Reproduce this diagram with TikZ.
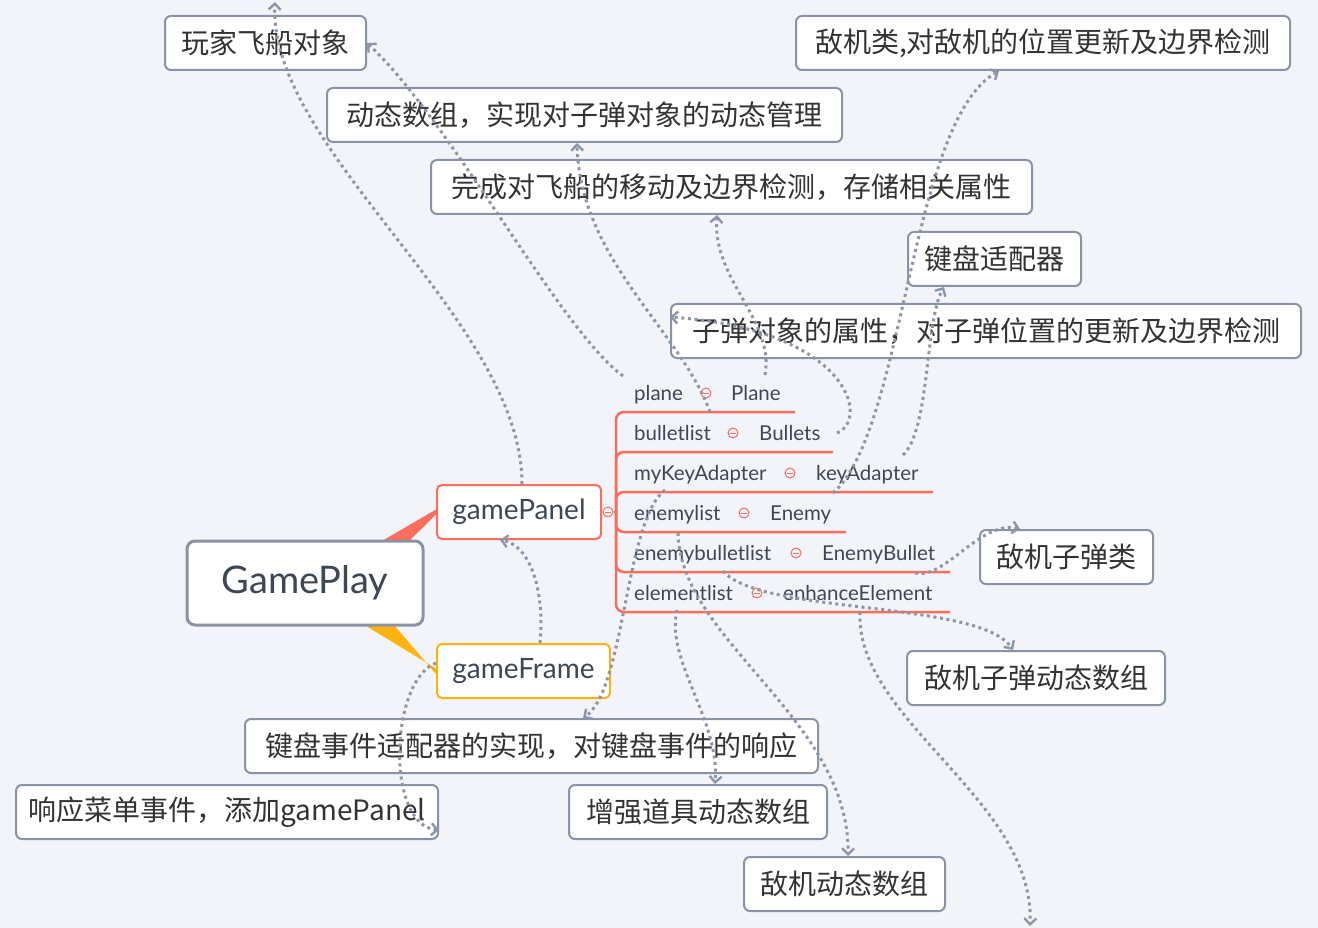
\documentclass[tikz,border=0pt]{standalone}
\usepackage{fontspec}
\setmainfont{Lato}
\newfontfamily\cjk{Noto Sans CJK SC}
\usetikzlibrary{arrows.meta,calc}
\pgfdeclarelayer{background}
\pgfsetlayers{background,main}
\definecolor{bgc}{HTML}{F3F4F9}
\definecolor{boxline}{HTML}{8A93A5}
\definecolor{txtc}{HTML}{333333}
\definecolor{lblc}{HTML}{3E4756}
\definecolor{coral}{HTML}{FB6D5C}
\definecolor{amber}{HTML}{FFB30F}
\definecolor{connc}{HTML}{8D96A8}
\begin{document}
\begin{tikzpicture}[x=1pt,y=-1pt,
  notebox/.style={draw=boxline, line width=2pt, fill=white, rounded corners=6pt,
    minimum height=54pt, inner sep=0pt, text=txtc,
    font=\cjk\fontsize{28}{34}\selectfont},
  rootbox/.style={draw=boxline, line width=3pt, fill=white, rounded corners=8pt,
    minimum width=236pt, minimum height=84pt, inner sep=0pt, text=lblc,
    font=\fontsize{38}{44}\selectfont},
  subbox/.style={line width=2pt, fill=white, rounded corners=5pt,
    minimum height=54pt, inner sep=0pt, text=lblc,
    font=\fontsize{28}{32}\selectfont},
  lbl/.style={inner sep=0pt, text=lblc, font=\fontsize{20.5}{24}\selectfont, anchor=base west},
  minusicon/.style={circle, draw=coral, line width=1pt, minimum size=10pt, inner sep=0pt,
    path picture={\draw[coral,line width=1pt] ([xshift=2.3pt]path picture bounding box.west) -- ([xshift=-2.3pt]path picture bounding box.east);}},
  branch/.style={draw=coral, line width=2.5pt, rounded corners=8pt},
  conn/.style={draw=connc, line width=3pt, dash pattern=on 3pt off 3.6pt,
    -{Straight Barb[length=6pt,width=12pt,line width=2.4pt]}}
]
\useasboundingbox (0,0) rectangle (1318,928);
\begin{pgfonlayer}{background}
  \fill[bgc] (0,0) rectangle (1318,928);
\end{pgfonlayer}

% note boxes
\node[notebox, minimum width=201pt] (ply) at (265.5,43) {玩家飞船对象};
\node[notebox, minimum width=494pt] (enc) at (1043,43) {敌机类,对敌机的位置更新及边界检测};
\node[notebox, minimum width=515pt] (dyn) at (584.5,115) {动态数组，实现对子弹对象的动态管理};
\node[notebox, minimum width=601pt] (mov) at (731.5,187) {完成对飞船的移动及边界检测，存储相关属性};
\node[notebox, minimum width=173pt] (kad) at (994.5,259) {键盘适配器};
\node[notebox, minimum width=630pt] (bul) at (986,331) {子弹对象的属性，对子弹位置的更新及边界检测};
\node[notebox, minimum width=173pt] (ebc) at (1066.5,557) {敌机子弹类};
\node[notebox, minimum width=258pt] (eba) at (1036,678) {敌机子弹动态数组};
\node[notebox, minimum width=573pt] (kev) at (531.5,746) {键盘事件适配器的实现，对键盘事件的响应};
\node[notebox, minimum width=422pt] (menu) at (227,812) {响应菜单事件，添加gamePanel};
\node[notebox, minimum width=258pt] (ela) at (698,812) {增强道具动态数组};
\node[notebox, minimum width=201pt] (ena) at (844.5,884) {敌机动态数组};

% main topics
\node[rootbox] (gp) at (305,583) {GamePlay};
\node[subbox, draw=coral, minimum width=164pt] (gpn) at (519,512) {gamePanel};
\node[subbox, draw=amber, minimum width=173pt] (gfr) at (523.5,671) {gameFrame};

\begin{pgfonlayer}{background}
  \fill[coral] ([yshift=2.5pt]gpn.west) -- ([yshift=-2.5pt]gpn.west) -- (402,548) -- (370,548) -- cycle;
  \fill[amber] ([yshift=2.5pt]gfr.west) -- ([yshift=-3pt]gfr.west) -- (388,618) -- (353,618) -- cycle;
\end{pgfonlayer}

% attribute list
\node[minusicon] (gsc) at (608,512) {};
\draw[branch] (gsc.east) -- (616,512);
\draw[branch] (616,512) |- (795,412);
\draw[branch] (616,512) |- (833,452);
\draw[branch] (616,512) |- (933,492);
\draw[branch] (616,512) |- (846,532);
\draw[branch] (616,512) |- (950,572);
\draw[branch] (616,512) |- (950,612);

\node[lbl] (n1) at (634,400) {plane};
\node[minusicon] (i1) at (706,393) {};
\node[lbl] (c1) at (731,400) {Plane};
\node[lbl] (n2) at (634,440) {bulletlist};
\node[minusicon] (i2) at (733,433) {};
\node[lbl] (c2) at (759,440) {Bullets};
\node[lbl] (n3) at (634,480) {myKeyAdapter};
\node[minusicon] (i3) at (790,473) {};
\node[lbl] (c3) at (816,480) {keyAdapter};
\node[lbl] (n4) at (634,520) {enemylist};
\node[minusicon] (i4) at (744,513) {};
\node[lbl] (c4) at (770,520) {Enemy};
\node[lbl] (n5) at (634,560) {enemybulletlist};
\node[minusicon] (i5) at (796,553) {};
\node[lbl] (c5) at (822,560) {EnemyBullet};
\node[lbl] (n6) at (634,600) {elementlist};
\node[minusicon] (i6) at (757,593) {};
\node[lbl] (c6) at (783,600) {enhanceElement};

\coordinate (topend) at (275,2);
\coordinate (botend) at (1030,926);

% relationships
\draw[conn] ([xshift=3pt]gpn.north) .. controls (522,320) and (268,150) .. (topend);
\draw[conn] ([xshift=-11pt,yshift=24pt]n1.base west) .. controls (560,330) and (450,120) .. (ply.east);
\draw[conn] ([xshift=76pt,yshift=28pt]n2.base west) .. controls (680,330) and (580,260) .. ([xshift=-7.5pt]dyn.south);
\draw[conn] ([xshift=34pt,yshift=25pt]c1.base west) .. controls (775,320) and (712,280) .. ([xshift=-14.5pt]mov.south);
\draw[conn] ([xshift=78pt,yshift=7pt]c2.base west) .. controls (870,420) and (850,330) .. ([yshift=14pt]bul.west);
\draw[conn] ([xshift=87pt,yshift=25pt]c3.base west) .. controls (930,430) and (925,320) .. ([xshift=-50.5pt]kad.south);
\draw[conn] ([xshift=63pt,yshift=27pt]c4.base west) .. controls (905,430) and (910,120) .. ([xshift=-44pt]enc.south);
\draw[conn] ([xshift=31pt,yshift=30pt]n4.base west) .. controls (625,520) and (625,690) .. ([xshift=51.5pt]kev.north);
\draw[conn] ([xshift=16.5pt]gfr.north) .. controls (545,590) and (530,545) .. ([xshift=-19pt]gpn.south);
\draw[conn] ([yshift=8pt]gfr.west) .. controls (390,680) and (385,825) .. ([yshift=-18pt]menu.east);
\draw[conn] ([xshift=93pt,yshift=-13pt]c5.base west) .. controls (945,580) and (980,520) .. ([xshift=-46.5pt]ebc.north);
\draw[conn] ([xshift=89pt,yshift=-11pt]n5.base west) .. controls (760,615) and (980,600) .. ([xshift=-23pt]eba.north);
\draw[conn] ([xshift=44pt,yshift=-13pt]n4.base west) .. controls (680,640) and (850,720) .. ([xshift=3.5pt]ena.north);
\draw[conn] ([xshift=43pt,yshift=-10pt]n6.base west) .. controls (665,660) and (720,720) .. ([xshift=17pt]ela.north);
\draw[conn] ([xshift=77pt,yshift=-12pt]c6.base west) .. controls (855,720) and (1035,800) .. (botend);
\end{tikzpicture}
\end{document}
